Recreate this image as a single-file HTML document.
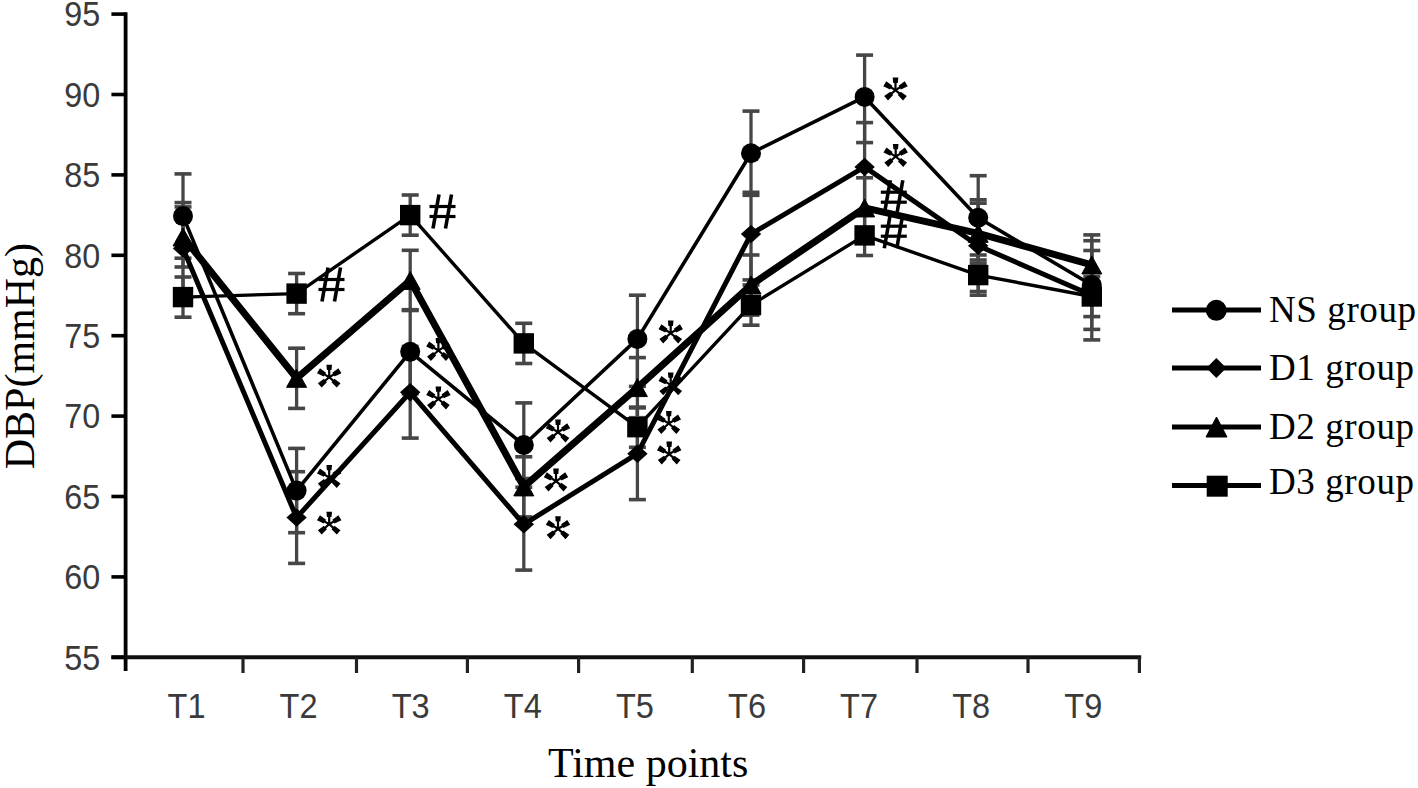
<!DOCTYPE html>
<html><head><meta charset="utf-8"><style>
html,body{margin:0;padding:0;background:#fff;}
body{width:1418px;height:788px;overflow:hidden;}
svg{display:block;}
.tl{font-family:"Liberation Sans",sans-serif;font-size:35px;fill:#3a3a3a;}
.ti{font-family:"Liberation Serif",serif;font-size:42px;fill:#000;}
.lg{font-family:"Liberation Serif",serif;font-size:37px;fill:#000;letter-spacing:0.6px;}
</style></head><body>
<svg width="1418" height="788" viewBox="0 0 1418 788">
<rect width="1418" height="788" fill="#fff"/>
<line x1="125.6" y1="12.3" x2="125.6" y2="671" stroke="#000" stroke-width="3.8"/>
<line x1="111.4" y1="657.3" x2="1141.2" y2="657.3" stroke="#111" stroke-width="4"/>
<line x1="111.4" y1="657.3" x2="125.6" y2="657.3" stroke="#000" stroke-width="3.6"/>
<text transform="translate(100.3,669.5) scale(0.925,1)" text-anchor="end" class="tl">55</text>
<line x1="111.4" y1="576.9" x2="125.6" y2="576.9" stroke="#000" stroke-width="3.6"/>
<text transform="translate(100.3,589.1) scale(0.925,1)" text-anchor="end" class="tl">60</text>
<line x1="111.4" y1="496.5" x2="125.6" y2="496.5" stroke="#000" stroke-width="3.6"/>
<text transform="translate(100.3,508.7) scale(0.925,1)" text-anchor="end" class="tl">65</text>
<line x1="111.4" y1="416.1" x2="125.6" y2="416.1" stroke="#000" stroke-width="3.6"/>
<text transform="translate(100.3,428.3) scale(0.925,1)" text-anchor="end" class="tl">70</text>
<line x1="111.4" y1="335.7" x2="125.6" y2="335.7" stroke="#000" stroke-width="3.6"/>
<text transform="translate(100.3,347.9) scale(0.925,1)" text-anchor="end" class="tl">75</text>
<line x1="111.4" y1="255.3" x2="125.6" y2="255.3" stroke="#000" stroke-width="3.6"/>
<text transform="translate(100.3,267.5) scale(0.925,1)" text-anchor="end" class="tl">80</text>
<line x1="111.4" y1="174.9" x2="125.6" y2="174.9" stroke="#000" stroke-width="3.6"/>
<text transform="translate(100.3,187.1) scale(0.925,1)" text-anchor="end" class="tl">85</text>
<line x1="111.4" y1="94.5" x2="125.6" y2="94.5" stroke="#000" stroke-width="3.6"/>
<text transform="translate(100.3,106.7) scale(0.925,1)" text-anchor="end" class="tl">90</text>
<line x1="111.4" y1="14.1" x2="125.6" y2="14.1" stroke="#000" stroke-width="3.6"/>
<text transform="translate(100.3,26.3) scale(0.925,1)" text-anchor="end" class="tl">95</text>
<line x1="243" y1="657.3" x2="243" y2="673" stroke="#222" stroke-width="3.2"/>
<line x1="356.5" y1="657.3" x2="356.5" y2="673" stroke="#222" stroke-width="3.2"/>
<line x1="467.4" y1="657.3" x2="467.4" y2="673" stroke="#222" stroke-width="3.2"/>
<line x1="578.6" y1="657.3" x2="578.6" y2="673" stroke="#222" stroke-width="3.2"/>
<line x1="692.3" y1="657.3" x2="692.3" y2="673" stroke="#222" stroke-width="3.2"/>
<line x1="803.6" y1="657.3" x2="803.6" y2="673" stroke="#222" stroke-width="3.2"/>
<line x1="917" y1="657.3" x2="917" y2="673" stroke="#222" stroke-width="3.2"/>
<line x1="1028" y1="657.3" x2="1028" y2="673" stroke="#222" stroke-width="3.2"/>
<line x1="1139.4" y1="657.3" x2="1139.4" y2="673" stroke="#222" stroke-width="3.2"/>
<text transform="translate(186.5,718) scale(0.93,1)" text-anchor="middle" class="tl">T1</text>
<text transform="translate(298.6,718) scale(0.93,1)" text-anchor="middle" class="tl">T2</text>
<text transform="translate(410.7,718) scale(0.93,1)" text-anchor="middle" class="tl">T3</text>
<text transform="translate(522.8,718) scale(0.93,1)" text-anchor="middle" class="tl">T4</text>
<text transform="translate(634.9,718) scale(0.93,1)" text-anchor="middle" class="tl">T5</text>
<text transform="translate(747.0,718) scale(0.93,1)" text-anchor="middle" class="tl">T6</text>
<text transform="translate(859.1,718) scale(0.93,1)" text-anchor="middle" class="tl">T7</text>
<text transform="translate(971.2,718) scale(0.93,1)" text-anchor="middle" class="tl">T8</text>
<text transform="translate(1083.3,718) scale(0.93,1)" text-anchor="middle" class="tl">T9</text>
<text x="548" y="777" class="ti">Time points</text>
<text transform="translate(33.8,469.3) rotate(-90)" x="0" y="0" class="ti">DBP(mmHg)</text>
<line x1="183.0" y1="173.9" x2="183.0" y2="258.2" stroke="#464646" stroke-width="3.3"/>
<line x1="174.5" y1="173.9" x2="191.5" y2="173.9" stroke="#464646" stroke-width="3.6"/>
<line x1="174.5" y1="258.2" x2="191.5" y2="258.2" stroke="#464646" stroke-width="3.6"/>
<line x1="296.6" y1="448.4" x2="296.6" y2="532.7" stroke="#464646" stroke-width="3.3"/>
<line x1="288.1" y1="448.4" x2="305.1" y2="448.4" stroke="#464646" stroke-width="3.6"/>
<line x1="288.1" y1="532.7" x2="305.1" y2="532.7" stroke="#464646" stroke-width="3.6"/>
<line x1="410.2" y1="309.7" x2="410.2" y2="393.9" stroke="#464646" stroke-width="3.3"/>
<line x1="401.7" y1="309.7" x2="418.7" y2="309.7" stroke="#464646" stroke-width="3.6"/>
<line x1="401.7" y1="393.9" x2="418.7" y2="393.9" stroke="#464646" stroke-width="3.6"/>
<line x1="523.8" y1="402.9" x2="523.8" y2="487.2" stroke="#464646" stroke-width="3.3"/>
<line x1="515.3" y1="402.9" x2="532.3" y2="402.9" stroke="#464646" stroke-width="3.6"/>
<line x1="515.3" y1="487.2" x2="532.3" y2="487.2" stroke="#464646" stroke-width="3.6"/>
<line x1="637.4" y1="295.2" x2="637.4" y2="386.4" stroke="#464646" stroke-width="3.3"/>
<line x1="628.9" y1="295.2" x2="645.9" y2="295.2" stroke="#464646" stroke-width="3.6"/>
<line x1="628.9" y1="386.4" x2="645.9" y2="386.4" stroke="#464646" stroke-width="3.6"/>
<line x1="751.0" y1="111.1" x2="751.0" y2="195.3" stroke="#464646" stroke-width="3.3"/>
<line x1="742.5" y1="111.1" x2="759.5" y2="111.1" stroke="#464646" stroke-width="3.6"/>
<line x1="742.5" y1="195.3" x2="759.5" y2="195.3" stroke="#464646" stroke-width="3.6"/>
<line x1="864.6" y1="55.1" x2="864.6" y2="142.6" stroke="#464646" stroke-width="3.3"/>
<line x1="856.1" y1="55.1" x2="873.1" y2="55.1" stroke="#464646" stroke-width="3.6"/>
<line x1="856.1" y1="142.6" x2="873.1" y2="142.6" stroke="#464646" stroke-width="3.6"/>
<line x1="978.2" y1="175.7" x2="978.2" y2="260.0" stroke="#464646" stroke-width="3.3"/>
<line x1="969.7" y1="175.7" x2="986.7" y2="175.7" stroke="#464646" stroke-width="3.6"/>
<line x1="969.7" y1="260.0" x2="986.7" y2="260.0" stroke="#464646" stroke-width="3.6"/>
<line x1="1091.8" y1="240.7" x2="1091.8" y2="329.4" stroke="#464646" stroke-width="3.3"/>
<line x1="1083.3" y1="240.7" x2="1100.3" y2="240.7" stroke="#464646" stroke-width="3.6"/>
<line x1="1083.3" y1="329.4" x2="1100.3" y2="329.4" stroke="#464646" stroke-width="3.6"/>
<line x1="183.0" y1="202.6" x2="183.0" y2="294.2" stroke="#464646" stroke-width="3.3"/>
<line x1="174.5" y1="202.6" x2="191.5" y2="202.6" stroke="#464646" stroke-width="3.6"/>
<line x1="174.5" y1="294.2" x2="191.5" y2="294.2" stroke="#464646" stroke-width="3.6"/>
<line x1="296.6" y1="471.7" x2="296.6" y2="563.4" stroke="#464646" stroke-width="3.3"/>
<line x1="288.1" y1="471.7" x2="305.1" y2="471.7" stroke="#464646" stroke-width="3.6"/>
<line x1="288.1" y1="563.4" x2="305.1" y2="563.4" stroke="#464646" stroke-width="3.6"/>
<line x1="410.2" y1="346.5" x2="410.2" y2="438.1" stroke="#464646" stroke-width="3.3"/>
<line x1="401.7" y1="346.5" x2="418.7" y2="346.5" stroke="#464646" stroke-width="3.6"/>
<line x1="401.7" y1="438.1" x2="418.7" y2="438.1" stroke="#464646" stroke-width="3.6"/>
<line x1="523.8" y1="478.5" x2="523.8" y2="570.1" stroke="#464646" stroke-width="3.3"/>
<line x1="515.3" y1="478.5" x2="532.3" y2="478.5" stroke="#464646" stroke-width="3.6"/>
<line x1="515.3" y1="570.1" x2="532.3" y2="570.1" stroke="#464646" stroke-width="3.6"/>
<line x1="637.4" y1="407.9" x2="637.4" y2="499.6" stroke="#464646" stroke-width="3.3"/>
<line x1="628.9" y1="407.9" x2="645.9" y2="407.9" stroke="#464646" stroke-width="3.6"/>
<line x1="628.9" y1="499.6" x2="645.9" y2="499.6" stroke="#464646" stroke-width="3.6"/>
<line x1="751.0" y1="192.3" x2="751.0" y2="279.9" stroke="#464646" stroke-width="3.3"/>
<line x1="742.5" y1="192.3" x2="759.5" y2="192.3" stroke="#464646" stroke-width="3.6"/>
<line x1="742.5" y1="279.9" x2="759.5" y2="279.9" stroke="#464646" stroke-width="3.6"/>
<line x1="864.6" y1="122.6" x2="864.6" y2="212.7" stroke="#464646" stroke-width="3.3"/>
<line x1="856.1" y1="122.6" x2="873.1" y2="122.6" stroke="#464646" stroke-width="3.6"/>
<line x1="856.1" y1="212.7" x2="873.1" y2="212.7" stroke="#464646" stroke-width="3.6"/>
<line x1="978.2" y1="199.8" x2="978.2" y2="291.5" stroke="#464646" stroke-width="3.3"/>
<line x1="969.7" y1="199.8" x2="986.7" y2="199.8" stroke="#464646" stroke-width="3.6"/>
<line x1="969.7" y1="291.5" x2="986.7" y2="291.5" stroke="#464646" stroke-width="3.6"/>
<line x1="1091.8" y1="250.5" x2="1091.8" y2="339.9" stroke="#464646" stroke-width="3.3"/>
<line x1="1083.3" y1="250.5" x2="1100.3" y2="250.5" stroke="#464646" stroke-width="3.6"/>
<line x1="1083.3" y1="339.9" x2="1100.3" y2="339.9" stroke="#464646" stroke-width="3.6"/>
<line x1="183.0" y1="206.9" x2="183.0" y2="267.0" stroke="#464646" stroke-width="3.3"/>
<line x1="174.5" y1="206.9" x2="191.5" y2="206.9" stroke="#464646" stroke-width="3.6"/>
<line x1="174.5" y1="267.0" x2="191.5" y2="267.0" stroke="#464646" stroke-width="3.6"/>
<line x1="296.6" y1="348.2" x2="296.6" y2="408.4" stroke="#464646" stroke-width="3.3"/>
<line x1="288.1" y1="348.2" x2="305.1" y2="348.2" stroke="#464646" stroke-width="3.6"/>
<line x1="288.1" y1="408.4" x2="305.1" y2="408.4" stroke="#464646" stroke-width="3.6"/>
<line x1="410.2" y1="250.3" x2="410.2" y2="310.5" stroke="#464646" stroke-width="3.3"/>
<line x1="401.7" y1="250.3" x2="418.7" y2="250.3" stroke="#464646" stroke-width="3.6"/>
<line x1="401.7" y1="310.5" x2="418.7" y2="310.5" stroke="#464646" stroke-width="3.6"/>
<line x1="523.8" y1="456.8" x2="523.8" y2="516.9" stroke="#464646" stroke-width="3.3"/>
<line x1="515.3" y1="456.8" x2="532.3" y2="456.8" stroke="#464646" stroke-width="3.6"/>
<line x1="515.3" y1="516.9" x2="532.3" y2="516.9" stroke="#464646" stroke-width="3.6"/>
<line x1="637.4" y1="357.6" x2="637.4" y2="417.7" stroke="#464646" stroke-width="3.3"/>
<line x1="628.9" y1="357.6" x2="645.9" y2="357.6" stroke="#464646" stroke-width="3.6"/>
<line x1="628.9" y1="417.7" x2="645.9" y2="417.7" stroke="#464646" stroke-width="3.6"/>
<line x1="751.0" y1="255.0" x2="751.0" y2="315.1" stroke="#464646" stroke-width="3.3"/>
<line x1="742.5" y1="255.0" x2="759.5" y2="255.0" stroke="#464646" stroke-width="3.6"/>
<line x1="742.5" y1="315.1" x2="759.5" y2="315.1" stroke="#464646" stroke-width="3.6"/>
<line x1="864.6" y1="177.8" x2="864.6" y2="237.9" stroke="#464646" stroke-width="3.3"/>
<line x1="856.1" y1="177.8" x2="873.1" y2="177.8" stroke="#464646" stroke-width="3.6"/>
<line x1="856.1" y1="237.9" x2="873.1" y2="237.9" stroke="#464646" stroke-width="3.6"/>
<line x1="978.2" y1="203.2" x2="978.2" y2="263.3" stroke="#464646" stroke-width="3.3"/>
<line x1="969.7" y1="203.2" x2="986.7" y2="203.2" stroke="#464646" stroke-width="3.6"/>
<line x1="969.7" y1="263.3" x2="986.7" y2="263.3" stroke="#464646" stroke-width="3.6"/>
<line x1="1091.8" y1="234.9" x2="1091.8" y2="295.0" stroke="#464646" stroke-width="3.3"/>
<line x1="1083.3" y1="234.9" x2="1100.3" y2="234.9" stroke="#464646" stroke-width="3.6"/>
<line x1="1083.3" y1="295.0" x2="1100.3" y2="295.0" stroke="#464646" stroke-width="3.6"/>
<line x1="183.0" y1="277.0" x2="183.0" y2="317.2" stroke="#464646" stroke-width="3.3"/>
<line x1="174.5" y1="277.0" x2="191.5" y2="277.0" stroke="#464646" stroke-width="3.6"/>
<line x1="174.5" y1="317.2" x2="191.5" y2="317.2" stroke="#464646" stroke-width="3.6"/>
<line x1="296.6" y1="273.5" x2="296.6" y2="313.7" stroke="#464646" stroke-width="3.3"/>
<line x1="288.1" y1="273.5" x2="305.1" y2="273.5" stroke="#464646" stroke-width="3.6"/>
<line x1="288.1" y1="313.7" x2="305.1" y2="313.7" stroke="#464646" stroke-width="3.6"/>
<line x1="410.2" y1="195.0" x2="410.2" y2="235.2" stroke="#464646" stroke-width="3.3"/>
<line x1="401.7" y1="195.0" x2="418.7" y2="195.0" stroke="#464646" stroke-width="3.6"/>
<line x1="401.7" y1="235.2" x2="418.7" y2="235.2" stroke="#464646" stroke-width="3.6"/>
<line x1="523.8" y1="323.3" x2="523.8" y2="363.5" stroke="#464646" stroke-width="3.3"/>
<line x1="515.3" y1="323.3" x2="532.3" y2="323.3" stroke="#464646" stroke-width="3.6"/>
<line x1="515.3" y1="363.5" x2="532.3" y2="363.5" stroke="#464646" stroke-width="3.6"/>
<line x1="637.4" y1="407.1" x2="637.4" y2="447.3" stroke="#464646" stroke-width="3.3"/>
<line x1="628.9" y1="407.1" x2="645.9" y2="407.1" stroke="#464646" stroke-width="3.6"/>
<line x1="628.9" y1="447.3" x2="645.9" y2="447.3" stroke="#464646" stroke-width="3.6"/>
<line x1="751.0" y1="285.0" x2="751.0" y2="325.2" stroke="#464646" stroke-width="3.3"/>
<line x1="742.5" y1="285.0" x2="759.5" y2="285.0" stroke="#464646" stroke-width="3.6"/>
<line x1="742.5" y1="325.2" x2="759.5" y2="325.2" stroke="#464646" stroke-width="3.6"/>
<line x1="864.6" y1="215.3" x2="864.6" y2="255.5" stroke="#464646" stroke-width="3.3"/>
<line x1="856.1" y1="215.3" x2="873.1" y2="215.3" stroke="#464646" stroke-width="3.6"/>
<line x1="856.1" y1="255.5" x2="873.1" y2="255.5" stroke="#464646" stroke-width="3.6"/>
<line x1="978.2" y1="255.0" x2="978.2" y2="295.2" stroke="#464646" stroke-width="3.3"/>
<line x1="969.7" y1="255.0" x2="986.7" y2="255.0" stroke="#464646" stroke-width="3.6"/>
<line x1="969.7" y1="295.2" x2="986.7" y2="295.2" stroke="#464646" stroke-width="3.6"/>
<line x1="1091.8" y1="276.4" x2="1091.8" y2="316.6" stroke="#464646" stroke-width="3.3"/>
<line x1="1083.3" y1="276.4" x2="1100.3" y2="276.4" stroke="#464646" stroke-width="3.6"/>
<line x1="1083.3" y1="316.6" x2="1100.3" y2="316.6" stroke="#464646" stroke-width="3.6"/>
<polyline points="183.0,297.1 296.6,293.6 410.2,215.1 523.8,343.4 637.4,427.2 751.0,305.1 864.6,235.4 978.2,275.1 1091.8,296.5" fill="none" stroke="#000" stroke-width="3.4" stroke-linejoin="round"/>
<polyline points="183.0,216.1 296.6,490.6 410.2,351.8 523.8,445.0 637.4,338.9 751.0,153.2 864.6,96.9 978.2,217.8 1091.8,285.0" fill="none" stroke="#000" stroke-width="3.6" stroke-linejoin="round"/>
<polyline points="183.0,248.4 296.6,517.6 410.2,392.3 523.8,524.3 637.4,453.7 751.0,234.1 864.6,166.9 978.2,245.7 1091.8,295.2" fill="none" stroke="#000" stroke-width="5.0" stroke-linejoin="round"/>
<polyline points="183.0,237.0 296.6,378.3 410.2,280.4 523.8,486.9 637.4,387.6 751.0,285.0 864.6,207.9 978.2,233.3 1091.8,264.9" fill="none" stroke="#000" stroke-width="7.0" stroke-linejoin="round"/>
<rect x="172.8" y="286.9" width="20.4" height="20.4" fill="#000"/>
<rect x="286.4" y="283.4" width="20.4" height="20.4" fill="#000"/>
<rect x="400.0" y="204.9" width="20.4" height="20.4" fill="#000"/>
<rect x="513.6" y="333.2" width="20.4" height="20.4" fill="#000"/>
<rect x="627.2" y="417.0" width="20.4" height="20.4" fill="#000"/>
<rect x="740.8" y="294.9" width="20.4" height="20.4" fill="#000"/>
<rect x="854.4" y="225.2" width="20.4" height="20.4" fill="#000"/>
<rect x="968.0" y="264.9" width="20.4" height="20.4" fill="#000"/>
<rect x="1081.6" y="286.3" width="20.4" height="20.4" fill="#000"/>
<circle cx="183.0" cy="216.1" r="10" fill="#000"/>
<circle cx="296.6" cy="490.6" r="10" fill="#000"/>
<circle cx="410.2" cy="351.8" r="10" fill="#000"/>
<circle cx="523.8" cy="445.0" r="10" fill="#000"/>
<circle cx="637.4" cy="338.9" r="10" fill="#000"/>
<circle cx="751.0" cy="153.2" r="10" fill="#000"/>
<circle cx="864.6" cy="96.9" r="10" fill="#000"/>
<circle cx="978.2" cy="217.8" r="10" fill="#000"/>
<circle cx="1091.8" cy="285.0" r="10" fill="#000"/>
<path d="M183.0,239.2 L193.2,248.4 L183.0,257.6 L172.8,248.4Z" fill="#000"/>
<path d="M296.6,508.4 L306.8,517.6 L296.6,526.8 L286.4,517.6Z" fill="#000"/>
<path d="M410.2,383.1 L420.4,392.3 L410.2,401.5 L400.0,392.3Z" fill="#000"/>
<path d="M523.8,515.1 L534.0,524.3 L523.8,533.5 L513.6,524.3Z" fill="#000"/>
<path d="M637.4,444.5 L647.6,453.7 L637.4,462.9 L627.2,453.7Z" fill="#000"/>
<path d="M751.0,224.9 L761.2,234.1 L751.0,243.3 L740.8,234.1Z" fill="#000"/>
<path d="M864.6,157.7 L874.8,166.9 L864.6,176.1 L854.4,166.9Z" fill="#000"/>
<path d="M978.2,236.5 L988.4,245.7 L978.2,254.9 L968.0,245.7Z" fill="#000"/>
<path d="M1091.8,286.0 L1102.0,295.2 L1091.8,304.4 L1081.6,295.2Z" fill="#000"/>
<path d="M183.0,228.0 L193.0,246.0 L173.0,246.0Z" fill="#000" stroke="#000" stroke-width="1" stroke-linejoin="round"/>
<path d="M296.6,369.3 L306.6,387.3 L286.6,387.3Z" fill="#000" stroke="#000" stroke-width="1" stroke-linejoin="round"/>
<path d="M410.2,271.4 L420.2,289.4 L400.2,289.4Z" fill="#000" stroke="#000" stroke-width="1" stroke-linejoin="round"/>
<path d="M523.8,477.9 L533.8,495.9 L513.8,495.9Z" fill="#000" stroke="#000" stroke-width="1" stroke-linejoin="round"/>
<path d="M637.4,378.6 L647.4,396.6 L627.4,396.6Z" fill="#000" stroke="#000" stroke-width="1" stroke-linejoin="round"/>
<path d="M751.0,276.0 L761.0,294.0 L741.0,294.0Z" fill="#000" stroke="#000" stroke-width="1" stroke-linejoin="round"/>
<path d="M864.6,198.9 L874.6,216.9 L854.6,216.9Z" fill="#000" stroke="#000" stroke-width="1" stroke-linejoin="round"/>
<path d="M978.2,224.3 L988.2,242.3 L968.2,242.3Z" fill="#000" stroke="#000" stroke-width="1" stroke-linejoin="round"/>
<path d="M1091.8,255.9 L1101.8,273.9 L1081.8,273.9Z" fill="#000" stroke="#000" stroke-width="1" stroke-linejoin="round"/>
<path d="M330.30,377.20 L330.30,370.00 L331.50,370.00 L332.00,364.70 L326.40,364.70 L326.90,370.00 L328.10,370.00 L328.10,377.20Z" fill="#000"/><path d="M329.77,378.14 L334.05,375.57 L334.62,376.51 L341.41,373.25 L338.42,368.28 L332.35,372.74 L332.92,373.68 L328.63,376.26Z" fill="#000"/><path d="M329.77,376.26 L325.48,373.68 L326.05,372.74 L319.98,368.28 L316.99,373.25 L323.78,376.51 L324.35,375.57 L328.63,378.14Z" fill="#000"/><path d="M328.48,376.37 L324.70,379.65 L323.98,378.82 L317.86,383.21 L321.67,387.59 L326.87,382.14 L326.15,381.31 L329.92,378.03Z" fill="#000"/><path d="M328.48,378.03 L332.25,381.31 L331.53,382.14 L336.73,387.59 L340.54,383.21 L334.42,378.82 L333.70,379.65 L329.92,376.37Z" fill="#000"/>
<path d="M330.30,477.50 L330.30,470.30 L331.50,470.30 L332.00,465.00 L326.40,465.00 L326.90,470.30 L328.10,470.30 L328.10,477.50Z" fill="#000"/><path d="M329.77,478.44 L334.05,475.87 L334.62,476.81 L341.41,473.55 L338.42,468.58 L332.35,473.04 L332.92,473.98 L328.63,476.56Z" fill="#000"/><path d="M329.77,476.56 L325.48,473.98 L326.05,473.04 L319.98,468.58 L316.99,473.55 L323.78,476.81 L324.35,475.87 L328.63,478.44Z" fill="#000"/><path d="M328.48,476.67 L324.70,479.95 L323.98,479.12 L317.86,483.51 L321.67,487.89 L326.87,482.44 L326.15,481.61 L329.92,478.33Z" fill="#000"/><path d="M328.48,478.33 L332.25,481.61 L331.53,482.44 L336.73,487.89 L340.54,483.51 L334.42,479.12 L333.70,479.95 L329.92,476.67Z" fill="#000"/>
<path d="M330.30,524.20 L330.30,517.00 L331.50,517.00 L332.00,511.70 L326.40,511.70 L326.90,517.00 L328.10,517.00 L328.10,524.20Z" fill="#000"/><path d="M329.77,525.14 L334.05,522.57 L334.62,523.51 L341.41,520.25 L338.42,515.28 L332.35,519.74 L332.92,520.68 L328.63,523.26Z" fill="#000"/><path d="M329.77,523.26 L325.48,520.68 L326.05,519.74 L319.98,515.28 L316.99,520.25 L323.78,523.51 L324.35,522.57 L328.63,525.14Z" fill="#000"/><path d="M328.48,523.37 L324.70,526.65 L323.98,525.82 L317.86,530.21 L321.67,534.59 L326.87,529.14 L326.15,528.31 L329.92,525.03Z" fill="#000"/><path d="M328.48,525.03 L332.25,528.31 L331.53,529.14 L336.73,534.59 L340.54,530.21 L334.42,525.82 L333.70,526.65 L329.92,523.37Z" fill="#000"/>
<path d="M439.50,350.50 L439.50,343.30 L440.70,343.30 L441.20,338.00 L435.60,338.00 L436.10,343.30 L437.30,343.30 L437.30,350.50Z" fill="#000"/><path d="M438.97,351.44 L443.25,348.87 L443.82,349.81 L450.61,346.55 L447.62,341.58 L441.55,346.04 L442.12,346.98 L437.83,349.56Z" fill="#000"/><path d="M438.97,349.56 L434.68,346.98 L435.25,346.04 L429.18,341.58 L426.19,346.55 L432.98,349.81 L433.55,348.87 L437.83,351.44Z" fill="#000"/><path d="M437.68,349.67 L433.90,352.95 L433.18,352.12 L427.06,356.51 L430.87,360.89 L436.07,355.44 L435.35,354.61 L439.12,351.33Z" fill="#000"/><path d="M437.68,351.33 L441.45,354.61 L440.73,355.44 L445.93,360.89 L449.74,356.51 L443.62,352.12 L442.90,352.95 L439.12,349.67Z" fill="#000"/>
<path d="M439.50,399.00 L439.50,391.80 L440.70,391.80 L441.20,386.50 L435.60,386.50 L436.10,391.80 L437.30,391.80 L437.30,399.00Z" fill="#000"/><path d="M438.97,399.94 L443.25,397.37 L443.82,398.31 L450.61,395.05 L447.62,390.08 L441.55,394.54 L442.12,395.48 L437.83,398.06Z" fill="#000"/><path d="M438.97,398.06 L434.68,395.48 L435.25,394.54 L429.18,390.08 L426.19,395.05 L432.98,398.31 L433.55,397.37 L437.83,399.94Z" fill="#000"/><path d="M437.68,398.17 L433.90,401.45 L433.18,400.62 L427.06,405.01 L430.87,409.39 L436.07,403.94 L435.35,403.11 L439.12,399.83Z" fill="#000"/><path d="M437.68,399.83 L441.45,403.11 L440.73,403.94 L445.93,409.39 L449.74,405.01 L443.62,400.62 L442.90,401.45 L439.12,398.17Z" fill="#000"/>
<path d="M559.10,432.10 L559.10,424.90 L560.30,424.90 L560.80,419.60 L555.20,419.60 L555.70,424.90 L556.90,424.90 L556.90,432.10Z" fill="#000"/><path d="M558.57,433.04 L562.85,430.47 L563.42,431.41 L570.21,428.15 L567.22,423.18 L561.15,427.64 L561.72,428.58 L557.43,431.16Z" fill="#000"/><path d="M558.57,431.16 L554.28,428.58 L554.85,427.64 L548.78,423.18 L545.79,428.15 L552.58,431.41 L553.15,430.47 L557.43,433.04Z" fill="#000"/><path d="M557.28,431.27 L553.50,434.55 L552.78,433.72 L546.66,438.11 L550.47,442.49 L555.67,437.04 L554.95,436.21 L558.72,432.93Z" fill="#000"/><path d="M557.28,432.93 L561.05,436.21 L560.33,437.04 L565.53,442.49 L569.34,438.11 L563.22,433.72 L562.50,434.55 L558.72,431.27Z" fill="#000"/>
<path d="M557.10,481.10 L557.10,473.90 L558.30,473.90 L558.80,468.60 L553.20,468.60 L553.70,473.90 L554.90,473.90 L554.90,481.10Z" fill="#000"/><path d="M556.57,482.04 L560.85,479.47 L561.42,480.41 L568.21,477.15 L565.22,472.18 L559.15,476.64 L559.72,477.58 L555.43,480.16Z" fill="#000"/><path d="M556.57,480.16 L552.28,477.58 L552.85,476.64 L546.78,472.18 L543.79,477.15 L550.58,480.41 L551.15,479.47 L555.43,482.04Z" fill="#000"/><path d="M555.28,480.27 L551.50,483.55 L550.78,482.72 L544.66,487.11 L548.47,491.49 L553.67,486.04 L552.95,485.21 L556.72,481.93Z" fill="#000"/><path d="M555.28,481.93 L559.05,485.21 L558.33,486.04 L563.53,491.49 L567.34,487.11 L561.22,482.72 L560.50,483.55 L556.72,480.27Z" fill="#000"/>
<path d="M559.10,528.80 L559.10,521.60 L560.30,521.60 L560.80,516.30 L555.20,516.30 L555.70,521.60 L556.90,521.60 L556.90,528.80Z" fill="#000"/><path d="M558.57,529.74 L562.85,527.17 L563.42,528.11 L570.21,524.85 L567.22,519.88 L561.15,524.34 L561.72,525.28 L557.43,527.86Z" fill="#000"/><path d="M558.57,527.86 L554.28,525.28 L554.85,524.34 L548.78,519.88 L545.79,524.85 L552.58,528.11 L553.15,527.17 L557.43,529.74Z" fill="#000"/><path d="M557.28,527.97 L553.50,531.25 L552.78,530.42 L546.66,534.81 L550.47,539.19 L555.67,533.74 L554.95,532.91 L558.72,529.63Z" fill="#000"/><path d="M557.28,529.63 L561.05,532.91 L560.33,533.74 L565.53,539.19 L569.34,534.81 L563.22,530.42 L562.50,531.25 L558.72,527.97Z" fill="#000"/>
<path d="M671.80,333.10 L671.80,325.90 L673.00,325.90 L673.50,320.60 L667.90,320.60 L668.40,325.90 L669.60,325.90 L669.60,333.10Z" fill="#000"/><path d="M671.27,334.04 L675.55,331.47 L676.12,332.41 L682.91,329.15 L679.92,324.18 L673.85,328.64 L674.42,329.58 L670.13,332.16Z" fill="#000"/><path d="M671.27,332.16 L666.98,329.58 L667.55,328.64 L661.48,324.18 L658.49,329.15 L665.28,332.41 L665.85,331.47 L670.13,334.04Z" fill="#000"/><path d="M669.98,332.27 L666.20,335.55 L665.48,334.72 L659.36,339.11 L663.17,343.49 L668.37,338.04 L667.65,337.21 L671.42,333.93Z" fill="#000"/><path d="M669.98,333.93 L673.75,337.21 L673.03,338.04 L678.23,343.49 L682.04,339.11 L675.92,334.72 L675.20,335.55 L671.42,332.27Z" fill="#000"/>
<path d="M671.80,384.90 L671.80,377.70 L673.00,377.70 L673.50,372.40 L667.90,372.40 L668.40,377.70 L669.60,377.70 L669.60,384.90Z" fill="#000"/><path d="M671.27,385.84 L675.55,383.27 L676.12,384.21 L682.91,380.95 L679.92,375.98 L673.85,380.44 L674.42,381.38 L670.13,383.96Z" fill="#000"/><path d="M671.27,383.96 L666.98,381.38 L667.55,380.44 L661.48,375.98 L658.49,380.95 L665.28,384.21 L665.85,383.27 L670.13,385.84Z" fill="#000"/><path d="M669.98,384.07 L666.20,387.35 L665.48,386.52 L659.36,390.91 L663.17,395.29 L668.37,389.84 L667.65,389.01 L671.42,385.73Z" fill="#000"/><path d="M669.98,385.73 L673.75,389.01 L673.03,389.84 L678.23,395.29 L682.04,390.91 L675.92,386.52 L675.20,387.35 L671.42,384.07Z" fill="#000"/>
<path d="M669.90,423.50 L669.90,416.30 L671.10,416.30 L671.60,411.00 L666.00,411.00 L666.50,416.30 L667.70,416.30 L667.70,423.50Z" fill="#000"/><path d="M669.37,424.44 L673.65,421.87 L674.22,422.81 L681.01,419.55 L678.02,414.58 L671.95,419.04 L672.52,419.98 L668.23,422.56Z" fill="#000"/><path d="M669.37,422.56 L665.08,419.98 L665.65,419.04 L659.58,414.58 L656.59,419.55 L663.38,422.81 L663.95,421.87 L668.23,424.44Z" fill="#000"/><path d="M668.08,422.67 L664.30,425.95 L663.58,425.12 L657.46,429.51 L661.27,433.89 L666.47,428.44 L665.75,427.61 L669.52,424.33Z" fill="#000"/><path d="M668.08,424.33 L671.85,427.61 L671.13,428.44 L676.33,433.89 L680.14,429.51 L674.02,425.12 L673.30,425.95 L669.52,422.67Z" fill="#000"/>
<path d="M670.30,454.10 L670.30,446.90 L671.50,446.90 L672.00,441.60 L666.40,441.60 L666.90,446.90 L668.10,446.90 L668.10,454.10Z" fill="#000"/><path d="M669.77,455.04 L674.05,452.47 L674.62,453.41 L681.41,450.15 L678.42,445.18 L672.35,449.64 L672.92,450.58 L668.63,453.16Z" fill="#000"/><path d="M669.77,453.16 L665.48,450.58 L666.05,449.64 L659.98,445.18 L656.99,450.15 L663.78,453.41 L664.35,452.47 L668.63,455.04Z" fill="#000"/><path d="M668.48,453.27 L664.70,456.55 L663.98,455.72 L657.86,460.11 L661.67,464.49 L666.87,459.04 L666.15,458.21 L669.92,454.93Z" fill="#000"/><path d="M668.48,454.93 L672.25,458.21 L671.53,459.04 L676.73,464.49 L680.54,460.11 L674.42,455.72 L673.70,456.55 L669.92,453.27Z" fill="#000"/>
<path d="M896.60,90.10 L896.60,82.90 L897.80,82.90 L898.30,77.60 L892.70,77.60 L893.20,82.90 L894.40,82.90 L894.40,90.10Z" fill="#000"/><path d="M896.07,91.04 L900.35,88.47 L900.92,89.41 L907.71,86.15 L904.72,81.18 L898.65,85.64 L899.22,86.58 L894.93,89.16Z" fill="#000"/><path d="M896.07,89.16 L891.78,86.58 L892.35,85.64 L886.28,81.18 L883.29,86.15 L890.08,89.41 L890.65,88.47 L894.93,91.04Z" fill="#000"/><path d="M894.78,89.27 L891.00,92.55 L890.28,91.72 L884.16,96.11 L887.97,100.49 L893.17,95.04 L892.45,94.21 L896.22,90.93Z" fill="#000"/><path d="M894.78,90.93 L898.55,94.21 L897.83,95.04 L903.03,100.49 L906.84,96.11 L900.72,91.72 L900.00,92.55 L896.22,89.27Z" fill="#000"/>
<path d="M896.80,156.50 L896.80,149.30 L898.00,149.30 L898.50,144.00 L892.90,144.00 L893.40,149.30 L894.60,149.30 L894.60,156.50Z" fill="#000"/><path d="M896.27,157.44 L900.55,154.87 L901.12,155.81 L907.91,152.55 L904.92,147.58 L898.85,152.04 L899.42,152.98 L895.13,155.56Z" fill="#000"/><path d="M896.27,155.56 L891.98,152.98 L892.55,152.04 L886.48,147.58 L883.49,152.55 L890.28,155.81 L890.85,154.87 L895.13,157.44Z" fill="#000"/><path d="M894.98,155.67 L891.20,158.95 L890.48,158.12 L884.36,162.51 L888.17,166.89 L893.37,161.44 L892.65,160.61 L896.42,157.33Z" fill="#000"/><path d="M894.98,157.33 L898.75,160.61 L898.03,161.44 L903.23,166.89 L907.04,162.51 L900.92,158.12 L900.20,158.95 L896.42,155.67Z" fill="#000"/>
<g stroke="#000" fill="none"><line x1="328.0" y1="267.5" x2="322.0" y2="301.5" stroke-width="3.6"/><line x1="340.5" y1="267.5" x2="334.5" y2="301.5" stroke-width="3.6"/><line x1="318.5" y1="279.5" x2="344.5" y2="279.5" stroke-width="3.2"/><line x1="318.5" y1="289.5" x2="344.5" y2="289.5" stroke-width="3.2"/></g>
<g stroke="#000" fill="none"><line x1="439.0" y1="194.5" x2="433.0" y2="228.5" stroke-width="3.6"/><line x1="451.5" y1="194.5" x2="445.5" y2="228.5" stroke-width="3.6"/><line x1="429.5" y1="206.5" x2="455.5" y2="206.5" stroke-width="3.2"/><line x1="429.5" y1="216.5" x2="455.5" y2="216.5" stroke-width="3.2"/></g>
<g stroke="#000" fill="none"><line x1="890.3" y1="180.2" x2="884.3" y2="214.2" stroke-width="3.6"/><line x1="902.8" y1="180.2" x2="896.8" y2="214.2" stroke-width="3.6"/><line x1="880.8" y1="192.2" x2="906.8" y2="192.2" stroke-width="3.2"/><line x1="880.8" y1="202.2" x2="906.8" y2="202.2" stroke-width="3.2"/></g>
<g stroke="#000" fill="none"><line x1="890.3" y1="214.2" x2="884.3" y2="248.2" stroke-width="3.6"/><line x1="902.8" y1="214.2" x2="896.8" y2="248.2" stroke-width="3.6"/><line x1="880.8" y1="226.2" x2="906.8" y2="226.2" stroke-width="3.2"/><line x1="880.8" y1="236.2" x2="906.8" y2="236.2" stroke-width="3.2"/></g>
<line x1="1172" y1="310" x2="1261" y2="310" stroke="#000" stroke-width="5"/>
<text x="1269" y="321.6" class="lg">NS group</text>
<line x1="1172" y1="368.1" x2="1261" y2="368.1" stroke="#000" stroke-width="5"/>
<text x="1269" y="380" class="lg">D1 group</text>
<line x1="1172" y1="427.1" x2="1261" y2="427.1" stroke="#000" stroke-width="5"/>
<text x="1269" y="438.8" class="lg">D2 group</text>
<line x1="1172" y1="485.6" x2="1261" y2="485.6" stroke="#000" stroke-width="5"/>
<text x="1269" y="494.2" class="lg">D3 group</text>
<circle cx="1216.3" cy="310.3" r="10.5" fill="#000"/>
<path d="M1216.4,358.1 L1226.4,368.1 L1216.4,378.1 L1206.4,368.1Z" fill="#000"/>
<path d="M1216.5,417.0 L1227.0,437.0 L1206.0,437.0Z" fill="#000" stroke="#000" stroke-width="1" stroke-linejoin="round"/>
<rect x="1206.7" y="475.7" width="21.0" height="21.0" fill="#000"/>
</svg>
</body></html>
